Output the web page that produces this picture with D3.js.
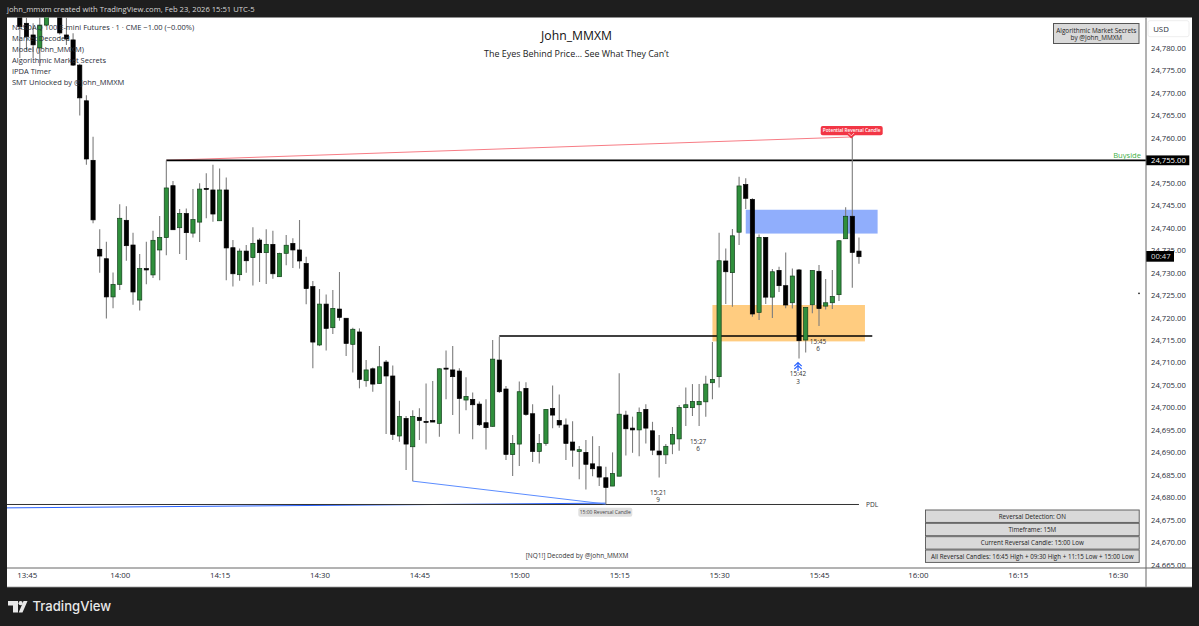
<!DOCTYPE html>
<html>
<head>
<meta charset="utf-8">
<script src="https://cdnjs.cloudflare.com/ajax/libs/d3/7.8.5/d3.min.js"></script>
<style>
  html, body { margin: 0; padding: 0; background: #1e1e1e; overflow: hidden; }
  svg text { font-family: "Open Sans", sans-serif; }
</style>
</head>
<body>
<div id="chart"></div>
<script>
// minutes are counted from 14:00, first candle is 13:45
var firstMinute = -15;

var opens = [24788,24785.5,24782.9,24780,24785.1,24795,24788,24782.9,24781.8,24776.2,24768.25,24755,24735.2,24733.1,24724.6,
  24727.4,24741.65,24736.15,24723.9,24730.9,24729.5,24735.05,24737.8,24749.35,24740,24743.15,24738.8,24741.25,24748.75,24748.4,
  24741.55,24748.4,24735.55,24729.55,24734.8,24733.35,24737.25,24734.45,24736.3,24729.1,24734.3,24736.5,24735.05,24732.05,24726.9,
  24713.9,24723,24717.75,24721.9,24719.85,24714.05,24716.8,24705.95,24708.6,24705.3,24710.1,24707,24693.65,24697.55,24691.25,
  24697.8,24696.9,24697.1,24696.45,24708.75,24708.35,24708.1,24701.65,24701.8,24700.75,24696.6,24695.8,24710.55,24704.1,24689.5,
  24691.85,24704.25,24698.6,24690.2,24692,24699.8,24697.1,24696.1,24692.3,24690.2,24690,24687.45,24686.8,24684.35,24682.5,
  24684.7,24698.3,24695.4,24695,24699.55,24694.8,24690.3,24689.45,24691.85,24693,24699.95,24699.95,24700.6,24701.25,24705.5,
  24706.85,24732.6,24730,24739,24749.6,24746.3,24721.15,24737.85,24724.55,24730.5,24727.1,24723.3,24730.6,24715,24722.85,
  24730.3,24722.55,24723.3,24725.1,24737.55,24742.55,24734.8];

var closes = [24784.75,24782.5,24780.7,24785.1,24790,24792,24783.35,24782,24776.2,24768.9,24755.3,24741.75,24733.7,24724.6,24727.4,
  24742.1,24736,24725.7,24730.9,24730.6,24737.2,24737.85,24748.85,24739.55,24743.15,24738.9,24741.8,24748.6,24748.6,24743.05,
  24748.4,24735.5,24729.75,24734.8,24732.65,24736.5,24734.45,24736.3,24729.75,24734.3,24736.1,24735.05,24732.6,24726.45,24714.55,
  24723,24717.6,24722.05,24720.05,24714.25,24717.4,24706.25,24708.35,24705.2,24709.05,24707,24694,24698,24691.85,24698,
  24697.1,24696.75,24696.75,24708.6,24708.55,24706.85,24702,24702.45,24700.6,24696.15,24695.5,24710.75,24703.5,24689.55,24691.95,
  24703.5,24698.45,24690.2,24692,24699.55,24698.3,24696.1,24692,24690.5,24690.6,24687.35,24686.35,24684.5,24682.2,24685.3,
  24698.5,24695.25,24695,24698.9,24695.4,24690.5,24689.45,24691.35,24694,24700,24700.6,24701.35,24701.35,24705.2,24706.25,
  24732.65,24730.2,24738.2,24749.3,24746.55,24720.8,24737.85,24724.55,24730.2,24727.1,24722.8,24729.25,24714.85,24722.25,24730.5,
  24722,24723.3,24724.7,24737.1,24742.55,24734.5,24733.55];

var highs = [24790,24790,24785.5,24787,24791,24797,24790,24788,24783.3,24776.5,24769.5,24760.25,24739.65,24736.9,24730.05,
  24745.2,24744.8,24738.9,24734.15,24736.9,24739.35,24742.6,24754.95,24750.4,24744.15,24744.3,24748.6,24749.9,24752.1,24754,
  24753.2,24751.15,24737.25,24735.4,24736.15,24740.1,24737.65,24739.65,24739.35,24734.45,24738.4,24737.65,24741.7,24733.55,24728.15,
  24726.35,24725.15,24726.15,24730.15,24719.85,24717.75,24717.6,24710.55,24708.9,24713.65,24710.55,24709.35,24701.5,24698.1,24699.35,
  24699.8,24705.35,24705.9,24708.7,24712.65,24713.65,24708.7,24706.7,24703.35,24701.3,24701.85,24715,24715.75,24704.75,24693.85,
  24705.75,24705.6,24700.7,24694.1,24699.65,24704.9,24702.9,24697.55,24696.9,24691.4,24692.75,24693.6,24691.4,24686.8,24690,
  24707.6,24699.25,24697.95,24700,24700.7,24696.8,24693.85,24691.85,24695.65,24700.55,24704.45,24705.2,24705.2,24707.05,24714.55,
  24738.9,24735.4,24739.7,24751.35,24751,24746.55,24738.5,24737.85,24730.8,24731.3,24734.5,24730.95,24730.8,24722.25,24730.5,
  24731.7,24728.6,24730.6,24737.25,24744.55,24760.2,24737.85];

var lows = [24777.75,24779.5,24777.75,24776,24785,24790,24783,24780.65,24776,24765,24754,24741,24730,24719.8,24722.05,
  24726.15,24732.65,24722.85,24721.6,24727.4,24728.8,24728.3,24733.85,24739.5,24734.15,24732.8,24737.85,24736.8,24742.1,24741.35,
  24741.5,24728.3,24726.9,24728.2,24730,24727.15,24727.9,24727.45,24728.65,24729.1,24731.65,24731.05,24730.9,24722.95,24708.7,
  24713.65,24712.65,24716.35,24719.3,24711.45,24707.75,24704.25,24704.6,24703.5,24705.2,24694.1,24692.75,24692.35,24686.05,24683.6,
  24692.75,24692,24696.75,24693.5,24701.8,24698.3,24694.15,24699.4,24692.9,24695.85,24690.65,24695.7,24703.2,24688.3,24684.75,
  24686.95,24698.15,24687.85,24687.55,24691.5,24695.35,24695.5,24688.3,24686.8,24684,24681.75,24684.7,24682.5,24678.5,24682.5,
  24684.7,24689.3,24689.9,24689.15,24692,24689.4,24684.4,24687.4,24689.6,24690.35,24695.85,24698.1,24695.85,24697.95,24701.8,
  24704.45,24723,24722.4,24736.15,24744.15,24720.2,24719.45,24723,24719.9,24725.7,24722.05,24722,24710.9,24712.25,24720.95,
  24718.1,24721.8,24721.9,24723.7,24737.55,24726.65,24732];

var priceTicks = [24780,24775,24770,24765,24760,24750,24745,24740,24735,24730,24725,24720,24715,24710,24705,24700,24695,24690,24685,24680,24675,24670,24665];
var timeTicks = [-15,0,15,30,45,60,75,90,105,120,135,150];
var timeLabels = ["13:45","14:00","14:15","14:30","14:45","15:00","15:15","15:30","15:45","16:00","16:15","16:30"];

var legendLines = ["NASDAQ 100 E-mini Futures · 1 · CME  −1.00 (−0.00%)","Market Decoded","Model (John_MMXM)","Algorithmic Market Secrets","IPDA Timer","SMT Unlocked by @John_MMXM"];
var tableRows = ["Reversal Detection: ON","Timeframe: 15M","Current Reversal Candle: 15:00 Low","All Reversal Candles: 16:45 High + 09:30 High + 11:15 Low + 15:00 Low"];

// swing counts printed under the candles: minute, price of first line, time, count
var swingMinutes = [81,87,102,105];
var swingPrices = [24681,24692.4,24707.4,24714.6];
var swingTimes = ["15:21","15:27","15:42","15:45"];
var swingCounts = ["9","6","3","6"];

var buysideLevel = 24755;
var midLevel = 24715.9;
var pdlLevel = 24678.4;
var orangeZone = [24722.8,24714.7];
var blueZone = [24744,24738.7];

var W = 1199, H = 626;
var paneL = 7, paneR = 1146, paneT = 17.5, paneB = 568, axisR = 1192, axisB = 587;

var x = d3.scaleLinear().domain([0,15]).range([119.7,219.6]);
var y = d3.scaleLinear().domain([24780,24665]).range([48,564.7]);

var svg = d3.select("#chart").append("svg").attr("width",W).attr("height",H).style("display","block");

// background + panes
svg.append("rect").attr("width",W).attr("height",H).attr("fill","#1e1e1e");
svg.append("rect").attr("x",paneL).attr("y",paneT).attr("width",axisR-paneL).attr("height",axisB-paneT).attr("fill","#fff");

svg.append("defs").append("clipPath").attr("id","pane")
  .append("rect").attr("x",paneL).attr("y",paneT).attr("width",paneR-paneL).attr("height",paneB-paneT);

var plot = svg.append("g").attr("clip-path","url(#pane)");

// zones
plot.append("rect").attr("x",x(89)).attr("width",x(111.9)-x(89))
  .attr("y",y(orangeZone[0])).attr("height",y(orangeZone[1])-y(orangeZone[0])).attr("fill","#ffcc80");
plot.append("rect").attr("x",x(94)).attr("width",x(113.8)-x(94))
  .attr("y",y(blueZone[0])).attr("height",y(blueZone[1])-y(blueZone[0])).attr("fill","#90aefc");

// level lines under the candles
plot.append("line").attr("x1",x(-21)).attr("x2",x(73)).attr("y1",y(24677.6)).attr("y2",y(pdlLevel+0.3))
  .attr("stroke","#2962ff").attr("stroke-width",1);
plot.append("line").attr("x1",x(-21)).attr("x2",x(111)).attr("y1",y(pdlLevel)).attr("y2",y(pdlLevel))
  .attr("stroke","#333").attr("stroke-width",1);
plot.append("line").attr("x1",x(44)).attr("x2",x(73)).attr("y1",y(lows[59])).attr("y2",y(lows[88]))
  .attr("stroke","#5b8cff").attr("stroke-width",1);
plot.append("line").attr("x1",x(7)).attr("x2",x(110)).attr("y1",y(buysideLevel)).attr("y2",y(highs[125]))
  .attr("stroke","#f77c85").attr("stroke-width",1);
plot.append("line").attr("x1",x(7)).attr("x2",paneR).attr("y1",y(buysideLevel)).attr("y2",y(buysideLevel))
  .attr("stroke","#000").attr("stroke-width",1.6);
plot.append("line").attr("x1",x(57)).attr("x2",x(113)).attr("y1",y(midLevel)).attr("y2",y(midLevel))
  .attr("stroke","#000").attr("stroke-width",1.6);

// candles
var candles = opens.map(function(o,i){
  return {t:firstMinute+i, o:o, c:closes[i], h:highs[i], l:lows[i]};
});
var bodyW = 4.2;
var candle = plot.selectAll(".candle").data(candles).enter().append("g").attr("class","candle");
candle.append("line")
  .attr("x1",function(d){return x(d.t);}).attr("x2",function(d){return x(d.t);})
  .attr("y1",function(d){return y(d.h);}).attr("y2",function(d){return y(d.l);})
  .attr("stroke","#7d7d7d").attr("stroke-width",1.1);
candle.append("rect")
  .attr("x",function(d){return x(d.t)-bodyW/2;})
  .attr("width",bodyW)
  .attr("y",function(d){return y(Math.max(d.o,d.c));})
  .attr("height",function(d){return Math.max(1,Math.abs(y(d.o)-y(d.c)));})
  .attr("fill",function(d){return d.c>=d.o ? "#2f8f3c" : "#000";})
  .attr("stroke",function(d){return d.c>=d.o ? "#123f1a" : "#000";})
  .attr("stroke-width",0.7);

// title block
svg.append("text").attr("x",576.5).attr("y",39.5).attr("text-anchor","middle")
  .attr("font-size",12.2).attr("fill","#111").text("John_MMXM");
svg.append("text").attr("x",576.5).attr("y",57).attr("text-anchor","middle")
  .attr("font-size",8.95).attr("fill","#222").text("The Eyes Behind Price... See What They Can’t");

// legend
svg.selectAll(".legend").data(legendLines).enter().append("text")
  .attr("class","legend").attr("x",12).attr("y",function(d,i){return 30+i*11;})
  .attr("font-size",7.5).attr("fill","#2a2e39").text(function(d){return d;});

// top right box
svg.append("rect").attr("x",1053.5).attr("y",23.5).attr("width",85.5).attr("height",20)
  .attr("fill","#d9d9d9").attr("stroke","#555").attr("stroke-width",1);
svg.append("text").attr("x",1096.3).attr("y",32.5).attr("text-anchor","middle").attr("font-size",6.4).attr("fill","#222").text("Algorithmic Market Secrets");
svg.append("text").attr("x",1096.3).attr("y",39.8).attr("text-anchor","middle").attr("font-size",6.4).attr("fill","#222").text("by @John_MMXM");

// buyside + pdl
svg.append("text").attr("x",1141).attr("y",157.5).attr("text-anchor","end").attr("font-size",7.6).attr("fill","#43b049").text("Buyside");
svg.append("text").attr("x",866).attr("y",y(pdlLevel)+2.4).attr("font-size",6.6).attr("fill","#333").text("PDL");

// reversal tags
svg.append("rect").attr("x",578.3).attr("y",507.7).attr("width",54).attr("height",9).attr("rx",2).attr("fill","#e0e0e0");
svg.append("text").attr("x",605.3).attr("y",514).attr("text-anchor","middle").attr("font-size",5).attr("fill","#444").text("15:00 Reversal Candle");

svg.append("rect").attr("x",820.7).attr("y",126).attr("width",62).attr("height",9.2).attr("rx",2).attr("fill","#f23645");
svg.append("path").attr("d","M847 134.5L851.3 138.5L855.6 134.5Z").attr("fill","#f23645");
svg.append("path").attr("d","M848.5 133L851.3 135.8L854.1 133").attr("fill","none").attr("stroke","#fff").attr("stroke-width",0.7);
svg.append("text").attr("x",851.7).attr("y",132.3).attr("text-anchor","middle").attr("font-size",4.7).attr("font-weight",600).attr("fill","#fff").text("Potential Reversal Candle");

// swing labels
swingMinutes.forEach(function(m,i){
  svg.append("text").attr("x",x(m)-1).attr("y",y(swingPrices[i])+2.2).attr("text-anchor","middle")
    .attr("font-size",6.4).attr("fill","#333").text(swingTimes[i]);
  svg.append("text").attr("x",x(m)-1).attr("y",y(swingPrices[i])+9.4).attr("text-anchor","middle")
    .attr("font-size",6.4).attr("fill","#333").text(swingCounts[i]);
});

// blue arrow at 15:42
svg.append("path").attr("d","M798 371V362.5M794.3 366.2L798 362.5L801.7 366.2M794.3 369.2L798 365.5L801.7 369.2")
  .attr("fill","none").attr("stroke","#2962ff").attr("stroke-width",1.2);

svg.append("text").attr("x",577).attr("y",558).attr("text-anchor","middle").attr("font-size",6.5).attr("fill","#333").text("[NQ1!] Decoded by @John_MMXM");

// bottom right table
var rowTop = [510,523.3,536.7,550];
tableRows.forEach(function(t,i){
  svg.append("rect").attr("x",925.5).attr("y",rowTop[i]).attr("width",213.7).attr("height",12.4)
    .attr("fill","#d9d9d9").attr("stroke","#555").attr("stroke-width",0.9);
  svg.append("text").attr("x",1032.3).attr("y",rowTop[i]+8.5).attr("text-anchor","middle")
    .attr("font-size",6.25).attr("fill","#222").text(t);
});

// small dot right of the chart
svg.append("circle").attr("cx",1139).attr("cy",293.4).attr("r",0.8).attr("fill","#111");

// price axis
var yAxis = d3.axisRight(y).tickValues(priceTicks).tickSize(0).tickPadding(5)
  .tickFormat(function(d){return d3.format(",.2f")(d);});
var yG = svg.append("g").attr("transform","translate("+paneR+",0)").call(yAxis);
yG.select(".domain").remove();
yG.selectAll("text").attr("font-size",7.7).attr("fill","#2a2e39");

svg.append("rect").attr("x",1148).attr("y",20.7).attr("width",41).attr("height",16).attr("rx",2)
  .attr("fill","#fff").attr("stroke","#eee");
svg.append("text").attr("x",1161).attr("y",31.5).attr("text-anchor","middle").attr("font-size",7.8).attr("fill","#2a2e39").text("USD");

// price labels on axis
svg.append("rect").attr("x",paneR).attr("y",y(buysideLevel)-4.9).attr("width",43.3).attr("height",9.8).attr("fill","#000");
svg.append("text").attr("x",paneR+5).attr("y",y(buysideLevel)+2.8).attr("font-size",7.7).attr("fill","#fff")
  .text(d3.format(",.2f")(buysideLevel));
svg.append("rect").attr("x",paneR).attr("y",251).attr("width",28).attr("height",10.7).attr("fill","#000");
svg.append("text").attr("x",paneR+5).attr("y",259.2).attr("font-size",7.7).attr("fill","#ddd").text("00:47");

// time axis
svg.append("rect").attr("x",paneL).attr("y",paneB).attr("width",axisR-paneL).attr("height",axisB-paneB).attr("fill","#fff");
var xAxis = d3.axisBottom(x).tickValues(timeTicks).tickSize(0).tickPadding(4)
  .tickFormat(function(d,i){return timeLabels[i];});
var xG = svg.append("g").attr("transform","translate(0,"+paneB+")").call(xAxis);
xG.select(".domain").remove();
xG.selectAll("text").attr("font-size",7.9).attr("fill","#2a2e39")
  .attr("dx",function(d){return d===-15 ? 7 : (d>=120 ? -1 : 0);});

// frame lines
svg.append("line").attr("x1",paneL).attr("x2",axisR).attr("y1",paneB).attr("y2",paneB).attr("stroke","#666").attr("stroke-width",1);
svg.append("line").attr("x1",paneR).attr("x2",paneR).attr("y1",paneT).attr("y2",axisB).attr("stroke","#666").attr("stroke-width",1);
svg.append("line").attr("x1",paneL).attr("x2",axisR).attr("y1",axisB).attr("y2",axisB).attr("stroke","#999").attr("stroke-width",0.8);

// header
svg.append("text").attr("x",7).attr("y",12.3).attr("font-size",7.65).attr("fill","#d6d6d6")
  .text("john_mmxm created with TradingView.com, Feb 23, 2026 15:51 UTC-5");

// footer logo
svg.append("path").attr("d","M8 601H18V612.5H13V605.5H8ZM23.5 601H27.5L22.5 612.5H18.7Z").attr("fill","#e8e8e8");
svg.append("circle").attr("cx",20.6).attr("cy",603.2).attr("r",2.1).attr("fill","#e8e8e8");
svg.append("text").attr("x",32.5).attr("y",611).attr("font-size",13.1).attr("font-weight",500)
  .attr("fill","#e8e8e8").style("font-family","Inter").text("TradingView");
</script>
</body>
</html>
